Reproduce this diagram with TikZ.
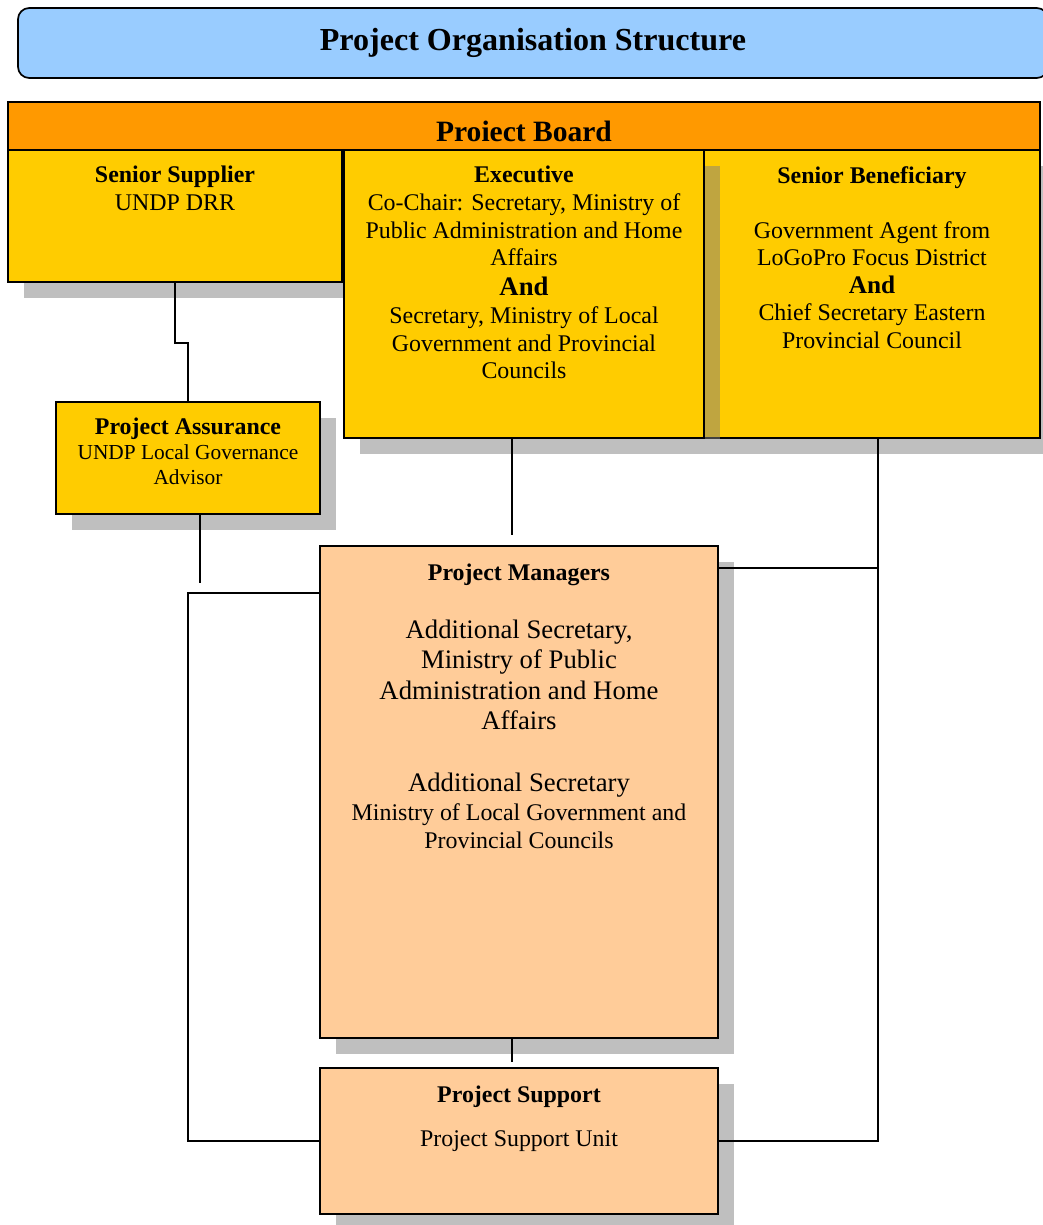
\documentclass[tikz,border=0pt]{standalone}
\usepackage{fontspec}
\setmainfont{Liberation Serif}
\usetikzlibrary{positioning,fit,shadows}
\definecolor{titleblue}{HTML}{99CCFF}
\definecolor{boardorange}{HTML}{FF9900}
\definecolor{boardyellow}{HTML}{FFCC00}
\definecolor{mgrpeach}{HTML}{FFCC99}
\newcommand{\bodysize}{\fontsize{17}{19.6}\selectfont}
\newcommand{\mgrsize}{\fontsize{19}{21.7}\selectfont}

\begin{document}
\begin{tikzpicture}[
x=0.025cm,
y=-0.025cm,
frame/.style={
  draw,
  line width=1.2pt,
  inner sep=0pt
  },
shade/.style={
  drop shadow={shadow xshift=0.4cm, shadow yshift=-0.4cm, fill=black!50, opacity=0.5}
  },
board/.style={
  frame,
  fill=boardyellow
  },
mgmt/.style={
  frame,
  fill=mgrpeach,
  shade
  },
txt/.style={
  inner sep=0pt,
  align=center,
  font=\bodysize
  },
link/.style={
  line width=1.2pt
  }
]
\useasboundingbox (0,0) rectangle (1042,1225);

\node[frame, fill=titleblue, rounded corners=8pt, fit={(18,8) (1048,78)}] (title) {};
\node[font=\fontsize{22.8}{26}\selectfont\bfseries] at (title) (title-txt) {Project Organisation Structure};

\node[frame, fill=boardorange, fit={(8,102) (1040,150)}] (pboard) {};
\node[font=\fontsize{21}{24}\selectfont\bfseries] at ([yshift=-3.5pt]pboard.center) (pboard-txt) {Proiect Board};

\node[board, shade, fit={(8,150) (342,282)}] (supplier) {};
\node[board, shade, fit={(704,150) (1040,438)}] (benef) {};
\node[board, shade, fit={(344,150) (704,438)}] (exec) {};

\node[txt, below=12pt of supplier.north] (supplier-txt)
  {\textbf{Senior Supplier}\\UNDP DRR};
\node[txt, below=12pt of exec.north] (exec-txt)
  {\textbf{Executive}\\Co-Chair: Secretary, Ministry of\\Public Administration and Home\\Affairs\\[2pt]
   \fontsize{19}{20}\selectfont\textbf{And}\\\bodysize Secretary, Ministry of Local\\Government and Provincial\\Councils};
\node[txt, below=12pt of benef.north] (benef-txt)
  {\textbf{Senior Beneficiary}\\[19.6pt]Government Agent from\\LoGoPro Focus District\\
   \fontsize{18}{19}\selectfont\textbf{And}\\\bodysize Chief Secretary Eastern\\Provincial Council};

\node[board, shade, fit={(56,402) (320,514)}] (assurance) {};
\node[txt, font=\fontsize{15.2}{17.8}\selectfont, below=12pt of assurance.north] (assurance-txt)
  {\fontsize{17}{17.8}\selectfont\textbf{Project Assurance}\\\fontsize{15.2}{17.8}\selectfont UNDP Local Governance\\Advisor};

\node[mgmt, fit={(320,546) (718,1038)}] (managers) {};
\node[txt, below=13pt of managers.north] (managers-head)
  {\textbf{Project Managers}};
\node[txt, font=\mgrsize, below=24pt of managers-head.south] (managers-body)
  {Additional Secretary,\\Ministry of Public\\Administration and Home\\Affairs\\[21.7pt]Additional Secretary};
\node[txt, below=4.5pt of managers-body.south] (managers-sub)
  {Ministry of Local Government and\\Provincial Councils};

\node[mgmt, fit={(320,1068) (718,1214)}] (support) {};
\node[txt, below=13pt of support.north] (support-txt)
  {\textbf{Project Support}\\[12pt]Project Support Unit};

\coordinate (assurance-end) at (200,583);
\coordinate (exec-end) at (512,535);
\coordinate (managers-end) at (512,1062);
\coordinate (benef-drop) at (878,568);
\coordinate (loop-left) at (188,593);

\draw[link] (supplier.south) -- ++(0,60) -| (assurance.north);
\draw[link] (assurance.south -| assurance-end) -- (assurance-end);
\draw[link] (exec.south -| exec-end) -- (exec-end);
\draw[link] (managers.south -| managers-end) -- (managers-end);
\draw[link] (benef.south -| benef-drop) |- (support.east);
\draw[link] (benef-drop) -- (benef-drop -| managers.east);
\draw[link] (loop-left -| managers.west) -- (loop-left) |- (support.west);
\end{tikzpicture}
\end{document}
